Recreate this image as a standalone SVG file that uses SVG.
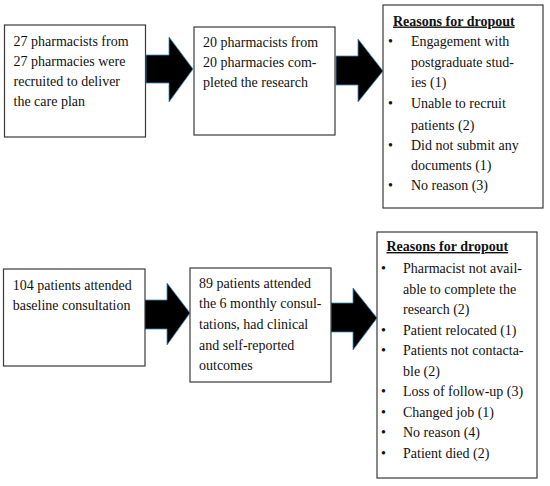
<svg xmlns="http://www.w3.org/2000/svg" width="550" height="486" viewBox="0 0 550 486">
<style>
.box{fill:#fff;stroke:#3a3a3a;stroke-width:1.2}
.arrow{fill:#000;stroke:#3d8fc0;stroke-width:0.8;stroke-linejoin:miter}
text{font-family:"Liberation Serif","Times New Roman",serif;font-size:14px;fill:#111}
.title{font-weight:bold;text-decoration:underline}
</style>
<rect width="550" height="486" fill="#fff"/>
<g id="connectors">
<polygon class="arrow" points="146,55 169,55 169,37 193,69 169,102 169,83 146,83"/>
<polygon class="arrow" points="336,56 358,56 358,39 383,71 358,102 358,85 336,85"/>
<polygon class="arrow" points="144,300 167,300 167,283 190,313 167,345 167,329 144,329"/>
<polygon class="arrow" points="331,303 353,303 353,288 377,318 353,350 353,332 331,332"/>
</g>
<g id="n1">
<rect class="box" x="4.5" y="25" width="141" height="112"/>
<text x="13.5" y="45.5">27 pharmacists from</text>
<text x="13.5" y="66">27 pharmacies were</text>
<text x="13.5" y="86">recruited to deliver</text>
<text x="13.5" y="106">the care plan</text>
</g>
<g id="n2">
<rect class="box" x="194" y="27" width="141" height="108"/>
<text x="203" y="47">20 pharmacists from</text>
<text x="203" y="67">20 pharmacies com-</text>
<text x="203" y="87">pleted the research</text>
</g>
<g id="n3">
<rect class="box" x="383" y="5" width="160" height="203"/>
<text class="title" x="393" y="25.5">Reasons for dropout</text>
<text x="388" y="46">•</text><text x="411" y="46">Engagement with</text>
<text x="411" y="67">postgraduate stud-</text>
<text x="411" y="86.5">ies (1)</text>
<text x="388" y="108">•</text><text x="411" y="108">Unable to recruit</text>
<text x="411" y="129.5">patients (2)</text>
<text x="388" y="149.5">•</text><text x="411" y="149.5">Did not submit any</text>
<text x="411" y="170">documents (1)</text>
<text x="388" y="190">•</text><text x="411" y="190">No reason (3)</text>
</g>
<g id="n4">
<rect class="box" x="3.5" y="269" width="141.5" height="97"/>
<text x="12.7" y="289.5">104 patients attended</text>
<text x="12.7" y="309.5">baseline consultation</text>
</g>
<g id="n5">
<rect class="box" x="190" y="268" width="141" height="114"/>
<text x="199" y="288">89 patients attended</text>
<text x="199" y="308">the 6 monthly consul-</text>
<text x="199" y="328.5">tations, had clinical</text>
<text x="199" y="349.5">and self-reported</text>
<text x="199" y="369.5">outcomes</text>
</g>
<g id="n6">
<rect class="box" x="377" y="232" width="160" height="246"/>
<text class="title" x="386.5" y="251">Reasons for dropout</text>
<text x="381" y="273">•</text><text x="403" y="273">Pharmacist not avail-</text>
<text x="403" y="293.5">able to complete the</text>
<text x="403" y="314">research (2)</text>
<text x="381" y="334.5">•</text><text x="403" y="334.5">Patient relocated (1)</text>
<text x="381" y="355">•</text><text x="403" y="355">Patients not contacta-</text>
<text x="403" y="375.5">ble (2)</text>
<text x="381" y="396">•</text><text x="403" y="396">Loss of follow-up (3)</text>
<text x="381" y="416.5">•</text><text x="403" y="416.5">Changed job (1)</text>
<text x="381" y="437">•</text><text x="403" y="437">No reason (4)</text>
<text x="381" y="457.5">•</text><text x="403" y="457.5">Patient died (2)</text>
</g>
</svg>
